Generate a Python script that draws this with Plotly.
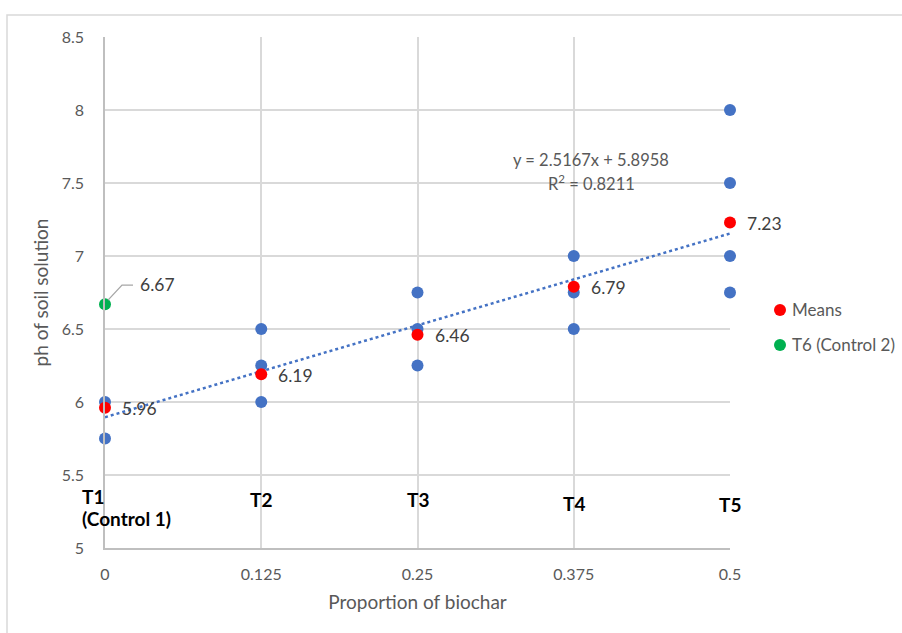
import plotly.graph_objects as go

# ---- data ----
proportion = [0, 0.125, 0.25, 0.375, 0.5]
treatment_labels = ["T1", "T2", "T3", "T4", "T5"]
rep_x = [0, 0, 0.125, 0.125, 0.125, 0.25, 0.25, 0.25, 0.375, 0.375, 0.375, 0.5, 0.5, 0.5, 0.5]
rep_ph = [6.0, 5.75, 6.5, 6.25, 6.0, 6.75, 6.5, 6.25, 7.0, 6.75, 6.5, 8.0, 7.5, 7.0, 6.75]
means = [5.96, 6.19, 6.46, 6.79, 7.23]
control2_x = [0]
control2_ph = [6.67]
slope = 2.5167
intercept = 5.8958
r2 = 0.8211
x_ticks = [0, 0.125, 0.25, 0.375, 0.5]
x_ticktext = ["0", "0.125", "0.25", "0.375", "0.5"]
legend_names = ["Means", "T6 (Control 2)"]

BLUE = "#4472C4"
RED = "#FF0000"
GREEN = "#00B050"
GREY_TXT = "#595959"
LABEL_TXT = "#404040"
FONT = "Lato, Carlito, Calibri, sans-serif"

fig = go.Figure()

# trendline
tx = [proportion[0], proportion[-1]]
ty = [intercept + slope * v for v in tx]
fig.add_trace(go.Scatter(x=tx, y=ty, mode="lines",
                         line=dict(color=BLUE, width=2.5, dash="dot"),
                         showlegend=False, hoverinfo="skip"))

fig.add_trace(go.Scatter(x=rep_x, y=rep_ph, mode="markers",
                         marker=dict(color=BLUE, size=12),
                         showlegend=False, name="Replicates", cliponaxis=False))

fig.add_trace(go.Scatter(x=proportion, y=means, mode="markers",
                         marker=dict(color=RED, size=12),
                         name=legend_names[0], showlegend=False, cliponaxis=False))

fig.add_trace(go.Scatter(x=control2_x, y=control2_ph, mode="markers",
                         marker=dict(color=GREEN, size=12),
                         name=legend_names[1], showlegend=False, cliponaxis=False))

annotations = []
# mean labels
for xv, yv in zip(proportion, means):
    annotations.append(dict(x=xv, y=yv, xref="x", yref="y", text=f"{yv:.2f}",
                            showarrow=False, xanchor="left", yanchor="middle",
                            xshift=15, yshift=-1,
                            font=dict(family=FONT, size=17.5, color=LABEL_TXT)))
# control 2 label
annotations.append(dict(x=control2_x[0], y=control2_ph[0], xref="x", yref="y",
                        text=f"{control2_ph[0]:.2f}", showarrow=False,
                        xanchor="left", yanchor="middle", xshift=33, yshift=20,
                        font=dict(family=FONT, size=17.5, color=LABEL_TXT)))

# treatment labels
tl_y = [5.356, 5.329, 5.329, 5.308, 5.301]
for i, (xv, lab) in enumerate(zip(proportion, treatment_labels)):
    if i == 0:
        annotations.append(dict(x=xv, y=tl_y[i], xref="x", yref="y", text=f"<b>{lab}</b>",
                                showarrow=False, xanchor="left", yanchor="middle",
                                xshift=-25,
                                font=dict(family=FONT, size=19, color="#000000")))
    else:
        annotations.append(dict(x=xv, y=tl_y[i], xref="x", yref="y", text=f"<b>{lab}</b>",
                                showarrow=False, xanchor="center", yanchor="middle",
                                xshift=0,
                                font=dict(family=FONT, size=19, color="#000000")))
annotations.append(dict(x=0, y=5.205, xref="x", yref="y", text="<b>(Control 1)</b>",
                        showarrow=False, xanchor="left", yanchor="middle", xshift=-25,
                        font=dict(family=FONT, size=19, color="#000000")))

# trendline equation
annotations.append(dict(x=0.3888, y=7.658, xref="x", yref="y",
                        text=f"y = {slope}x + {intercept}",
                        showarrow=False, xanchor="center", yanchor="middle",
                        font=dict(family=FONT, size=16.5, color=GREY_TXT)))
annotations.append(dict(x=0.3888, y=7.50, xref="x", yref="y",
                        text=f"R<sup>2</sup> = {r2}",
                        showarrow=False, xanchor="center", yanchor="middle",
                        font=dict(family=FONT, size=16.5, color=GREY_TXT)))

# manual legend
legend_colors = [RED, GREEN]
legend_y = [0.4658, 0.3973]
shapes = [
    # chart border
    dict(type="rect", xref="paper", yref="paper", x0=-0.1568, x1=1.3, y0=-0.2, y1=1.043,
         line=dict(color="#d9d9d9", width=1.5), fillcolor="rgba(0,0,0,0)", layer="below"),
    # leader line for control 2 label
    dict(type="path", xref="x", yref="y", xsizemode="pixel", ysizemode="pixel",
         xanchor=control2_x[0], yanchor=control2_ph[0],
         path="M 3,4 L 17,19 L 28,19", line=dict(color="#a6a6a6", width=1.3)),
]
for name, col, ly in zip(legend_names, legend_colors, legend_y):
    shapes.append(dict(type="circle", xref="paper", yref="paper",
                       xsizemode="pixel", ysizemode="pixel",
                       xanchor=1.08, yanchor=ly, x0=-6, x1=6, y0=-6, y1=6,
                       fillcolor=col, line=dict(width=0)))
    annotations.append(dict(x=1.0955, y=ly, xref="paper", yref="paper", text=name,
                            showarrow=False, xanchor="left", yanchor="middle",
                            font=dict(family=FONT, size=17, color=GREY_TXT)))

fig.update_layout(
    width=902, height=633,
    margin=dict(l=105, r=172, t=37, b=85, autoexpand=False),
    paper_bgcolor="white", plot_bgcolor="white",
    font=dict(family=FONT, size=16, color=GREY_TXT),
    showlegend=False,
    annotations=annotations,
    shapes=shapes,
)

fig.update_xaxes(range=[0, 0.5], tickvals=x_ticks, ticktext=x_ticktext,
                 showgrid=True, gridcolor="#d9d9d9", gridwidth=1.5,
                 showline=True, linecolor="#bfbfbf", linewidth=1.5,
                 zeroline=False, ticks="outside", ticklen=0, ticklabelstandoff=11,
                 tickfont=dict(family=FONT, size=16, color=GREY_TXT),
                 title=dict(text="Proportion of biochar", standoff=14,
                            font=dict(family=FONT, size=19, color=GREY_TXT)))
fig.update_yaxes(range=[5, 8.5], dtick=0.5, tick0=5,
                 showgrid=True, gridcolor="#d9d9d9", gridwidth=1.5,
                 showline=True, linecolor="#bfbfbf", linewidth=1.5,
                 zeroline=False, ticks="outside", ticklen=0, ticklabelstandoff=16,
                 tickfont=dict(family=FONT, size=16, color=GREY_TXT),
                 title=dict(text="ph of soil solution", standoff=8,
                            font=dict(family=FONT, size=19, color=GREY_TXT)))

fig.write_html("out.html")
